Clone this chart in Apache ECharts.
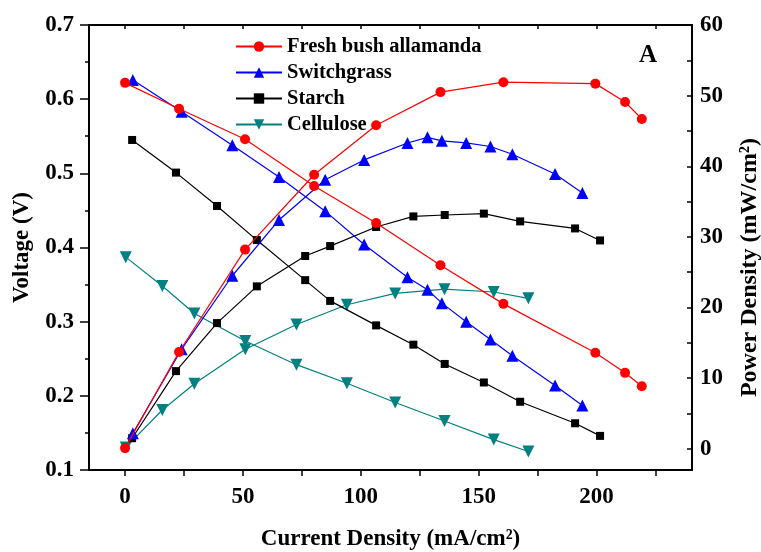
<!DOCTYPE html>
<html>

	<head>
		<meta charset="UTF-8">
		<title></title>
		<script src="https://cdn.jsdelivr.net/npm/echarts@6.0.0/dist/echarts.min.js"></script>
		<style>
			html, body { margin: 0; padding: 0; background: #fff; }
		</style>
	</head>

	<body>
		<div id="chart" style="height: 552px;width: 761px;"></div>
		<script type="text/javascript">
			// data: current density (mA/cm2), voltage (V), power density (mW/cm2)
			var names = ['Fresh bush allamanda', 'Switchgrass', 'Starch', 'Cellulose'];

			var allamandaI = [0, 22.9, 50.9, 80.2, 106.5, 133.8, 160.5, 199.5, 212.1, 219.2];
			var allamandaV = [0.622, 0.587, 0.546, 0.483, 0.433, 0.376, 0.324, 0.258, 0.231, 0.213];
			var allamandaP = [0.1, 13.7, 28.2, 38.8, 45.8, 50.5, 51.9, 51.7, 49.1, 46.7];

			var switchgrassI = [3.3, 24, 45.5, 65.3, 84.9, 101.4, 119.8, 128.3, 134.4, 144.7, 155, 164.3, 182.4, 194];
			var switchgrassV = [0.626, 0.583, 0.538, 0.495, 0.449, 0.404, 0.360, 0.343, 0.325, 0.300, 0.276, 0.254, 0.214, 0.187];
			var switchgrassP = [2.2, 14.1, 24.5, 32.4, 38.1, 40.9, 43.3, 44.1, 43.6, 43.3, 42.8, 41.7, 38.9, 36.2];

			var starchI = [3.0, 21.6, 39.0, 55.9, 76.4, 87.0, 106.5, 122.3, 135.6, 152.2, 167.6, 190.9, 201.5];
			var starchV = [0.545, 0.501, 0.456, 0.410, 0.356, 0.328, 0.295, 0.269, 0.243, 0.218, 0.192, 0.163, 0.146];
			var starchP = [1.5, 11.0, 17.8, 23.0, 27.3, 28.7, 31.4, 32.9, 33.1, 33.3, 32.2, 31.2, 29.5];

			var celluloseI = [0.3, 15.8, 29.4, 51.0, 72.7, 94.1, 114.6, 135.5, 156.4, 171.1];
			var celluloseV = [0.387, 0.348, 0.311, 0.274, 0.242, 0.217, 0.191, 0.166, 0.141, 0.125];
			var celluloseP = [0.2, 5.5, 9.2, 14.1, 17.6, 20.4, 22.0, 22.6, 22.2, 21.3];

			var xLabels = [0, 50, 100, 150, 200];
			var xTicks = [0, 25, 50, 75, 100, 125, 150, 175, 200, 225];
			var pLabels = [0, 10, 20, 30, 40, 50, 60];
			var pTicks = [0, 5, 10, 15, 20, 25, 30, 35, 40, 45, 50, 55, 60];

			var my_echarts = echarts.init(document.getElementById('chart'));

			let font = '"Liberation Serif", "Times New Roman", serif';
			let black = '#000';
			let pairs = function(xs, ys) {
				return xs.map((x, i) => [x, ys[i]]);
			}
			let labelStyle = {
				fontFamily: font,
				fontWeight: 'bold',
				fontSize: 23,
				color: black
			};
			let nameStyle = {
				fontFamily: font,
				fontWeight: 'bold',
				fontSize: 23,
				color: black
			};
			let frameLine = {
				show: true,
				onZero: false,
				lineStyle: { color: black, width: 2 }
			};

			// colour, symbol, size per material
			let looks = [
				['#ff0000', 'circle', 10],
				['#0000ff', 'triangle', 12],
				['#000000', 'rect', 8],
				['#008080', 'path://M0,0L2,0L1,1.7Z', 12]
			];
			let curves = [
				[allamandaI, allamandaV, allamandaP],
				[switchgrassI, switchgrassV, switchgrassP],
				[starchI, starchV, starchP],
				[celluloseI, celluloseV, celluloseP]
			];

			let series = [];
			curves.forEach((c, k) => {
				[1, 2].forEach(j => {
					series.push({
						name: names[k],
						type: 'line',
						xAxisIndex: 0,
						yAxisIndex: j - 1,
						data: pairs(c[0], c[j]),
						symbol: looks[k][1],
						symbolSize: looks[k][2],
						showSymbol: true,
						lineStyle: {
							color: looks[k][0],
							width: 1.2
						},
						itemStyle: {
							color: looks[k][0]
						},
						z: 10 - k
					});
				});
			});

			option = {
				backgroundColor: '#fff',
				animation: false,
				grid: {
					left: 89,
					right: 69,
					top: 25,
					bottom: 82,
					outerBoundsMode: 'none'
				},
				legend: {
					data: names,
					orient: 'vertical',
					left: 230,
					top: 31,
					itemWidth: 46,
					itemHeight: 13,
					itemGap: 5,
					textStyle: {
						fontFamily: font,
						fontWeight: 'bold',
						fontSize: 20.5,
						color: black
					}
				},
				graphic: [{
					type: 'text',
					left: 639,
					top: 43,
					style: {
						text: 'A',
						font: 'bold 25px "Liberation Serif", serif',
						fill: black
					}
				}],
				xAxis: [{
					type: 'value',
					position: 'bottom',
					min: -15.3,
					max: 240.5,
					name: 'Current Density (mA/cm²)',
					nameLocation: 'middle',
					nameGap: 58,
					nameTextStyle: nameStyle,
					axisLine: frameLine,
					axisTick: {
						customValues: xTicks,
						length: 6,
						lineStyle: { color: black, width: 1.5 }
					},
					axisLabel: Object.assign({
						customValues: xLabels,
						margin: 16
					}, labelStyle),
					splitLine: { show: false }
				}, {
					type: 'value',
					position: 'top',
					min: -15.3,
					max: 240.5,
					axisLine: frameLine,
					axisTick: {
						customValues: xTicks,
						inside: true,
						length: 4,
						lineStyle: { color: black, width: 1.5 }
					},
					axisLabel: { show: false },
					splitLine: { show: false }
				}],
				yAxis: [{
					type: 'value',
					position: 'left',
					min: 0.1,
					max: 0.7,
					interval: 0.1,
					name: 'Voltage (V)',
					nameLocation: 'middle',
					nameGap: 55,
					nameTextStyle: nameStyle,
					axisLine: frameLine,
					axisTick: {
						length: 9,
						lineStyle: { color: black, width: 1.5 }
					},
					minorTick: {
						show: true,
						splitNumber: 2,
						length: 4,
						lineStyle: { color: black, width: 1.5 }
					},
					axisLabel: Object.assign({
						margin: 15,
						formatter: v => v.toFixed(1)
					}, labelStyle),
					splitLine: { show: false }
				}, {
					type: 'value',
					position: 'right',
					min: -3,
					max: 60,
					name: 'Power Density (mW/cm²)',
					nameLocation: 'middle',
					nameGap: 46,
					nameTextStyle: Object.assign({}, nameStyle, { fontSize: 24, padding: [0, 40, 0, 0] }),
					axisLine: frameLine,
					axisTick: {
						customValues: pTicks,
						inside: true,
						length: 5,
						lineStyle: { color: black, width: 1.5 }
					},
					axisLabel: Object.assign({
						customValues: pLabels,
						margin: 8
					}, labelStyle),
					splitLine: { show: false }
				}],
				series: series
			};
			my_echarts.setOption(option);
		</script>
	</body>

</html>
